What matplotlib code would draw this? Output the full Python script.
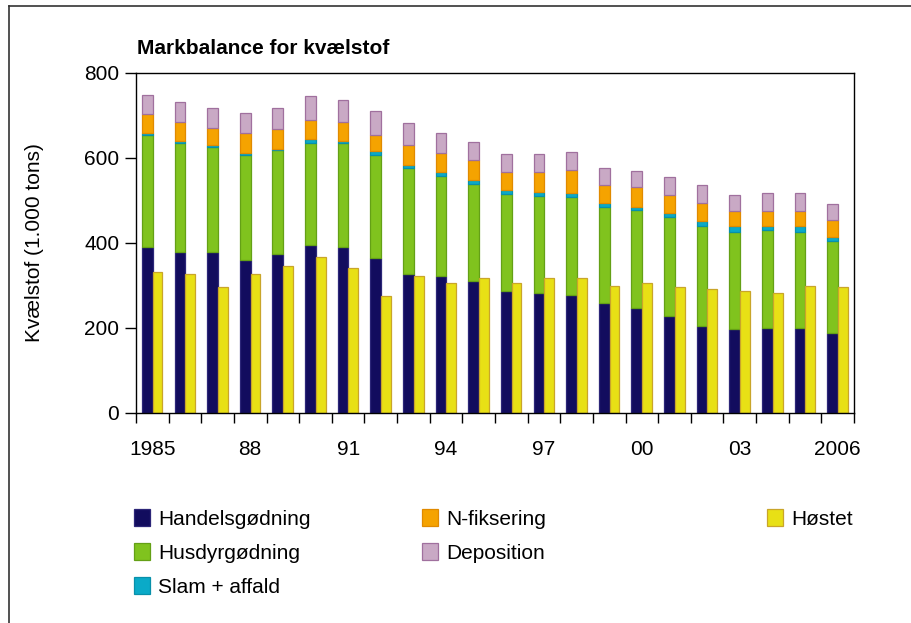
import matplotlib
matplotlib.use("Agg")
import matplotlib.pyplot as plt
from matplotlib.lines import Line2D
from matplotlib.patches import Patch
import numpy as np

plt.rcParams['font.family'] = ['Liberation Sans', 'DejaVu Sans']

# data (1.000 tons N)
years = list(range(1985, 2007))
tick_labels = ['1985', '88', '91', '94', '97', '00', '03', '2006']

handelsgodning = [391, 377, 377, 359, 373, 395, 391, 363, 327, 322, 309,
                  286, 282, 277, 259, 246, 228, 205, 196, 200, 200, 187]
husdyrgodning = [262, 257, 249, 248, 244, 239, 243, 244, 248, 235, 230,
                 229, 229, 230, 225, 230, 233, 235, 230, 230, 226, 216]
slam_affald = [4, 5, 4, 5, 4, 10, 5, 9, 8, 9, 9,
               10, 9, 9, 10, 9, 10, 12, 13, 10, 13, 10]
n_fiksering = [45, 46, 41, 45, 46, 45, 46, 38, 46, 46, 46,
               41, 46, 55, 41, 46, 41, 42, 36, 35, 36, 40]
deposition = [46, 46, 47, 47, 51, 56, 51, 55, 52, 47, 42,
              42, 42, 42, 41, 38, 42, 42, 38, 42, 42, 38]
hostet = [330, 326, 295, 326, 345, 367, 340, 275, 321, 305, 318,
          305, 318, 318, 299, 305, 295, 290, 286, 281, 299, 295]

series = [
    ('Handelsgødning', handelsgodning, '#120C5E', '#2C2678'),
    ('Husdyrgødning', husdyrgodning, '#80C31E', '#64A016'),
    ('Slam + affald', slam_affald, '#0AAAC8', '#0890AA'),
    ('N-fiksering', n_fiksering, '#F5A300', '#E08A00'),
    ('Deposition', deposition, '#C9A9C5', '#A0709E'),
]
hostet_color = ('#E8E015', '#C9A52A')

fig = plt.figure(figsize=(9.11, 6.23), dpi=100)
ax = fig.add_axes([136 / 911, 1 - 412.7 / 623, 718 / 911, 340 / 623])

x = np.arange(len(years))
bottom = np.zeros(len(years))
handles = {}
for name, vals, fc, ec in series:
    vals = np.array(vals, dtype=float)
    ax.bar(x - 0.32, vals, 0.33, bottom=bottom, align='edge',
           color=fc, edgecolor=ec, linewidth=0.9)
    handles[name] = Patch(facecolor=fc, edgecolor=ec, linewidth=0.9)
    bottom += vals
ax.bar(x + 0.01, hostet, 0.30, align='edge',
       color=hostet_color[0], edgecolor=hostet_color[1], linewidth=0.9)
handles['Høstet'] = Patch(facecolor=hostet_color[0], edgecolor=hostet_color[1], linewidth=0.9)

ax.set_xlim(-0.5, len(years) - 0.5)
ax.set_ylim(0, 800)
ax.set_yticks([0, 200, 400, 600, 800])
ax.tick_params(axis='y', direction='out', length=8, width=1, labelsize=15, pad=4)

# ticks between categories, labels every third year
ax.set_xticks(np.arange(-0.5, len(years), 1))
ax.set_xticklabels([])
ax.set_xticks(x[::3], minor=True)
ax.set_xticklabels(tick_labels, minor=True)
ax.tick_params(axis='x', which='major', direction='out', length=7.5, width=1)
ax.tick_params(axis='x', which='minor', length=0, labelsize=15, pad=20)

for sp in ax.spines.values():
    sp.set_linewidth(1.0)

ax.set_ylabel('Kvælstof (1.000 tons)', fontsize=15)
ax.yaxis.set_label_coords(-0.128, 0.5)

fig.text(137 / 911, 1 - 49 / 623, 'Markbalance for kvælstof', fontsize=15,
         fontweight='bold', va='center', ha='left')

# legend in three columns
cols = [
    (134, ['Handelsgødning', 'Husdyrgødning', 'Slam + affald']),
    (422, ['N-fiksering', 'Deposition']),
    (767, ['Høstet']),
]
for xpos, names in cols:
    fig.legend([handles[n] for n in names], names, loc='upper left',
               bbox_to_anchor=(xpos / 911, 1 - 509 / 623), frameon=False,
               fontsize=15, handlelength=0.75, handleheight=0.85,
               handletextpad=0.4, labelspacing=0.7, borderpad=0,
               borderaxespad=0)

# outer frame (left and top edges visible)
fig.add_artist(Line2D([9 / 911, 9 / 911], [0, 1 - 6 / 623], transform=fig.transFigure,
                      color='#333333', linewidth=1.2))
fig.add_artist(Line2D([9 / 911, 1], [1 - 6 / 623, 1 - 6 / 623], transform=fig.transFigure,
                      color='#333333', linewidth=1.2))

fig.savefig('out.png', dpi=100)
